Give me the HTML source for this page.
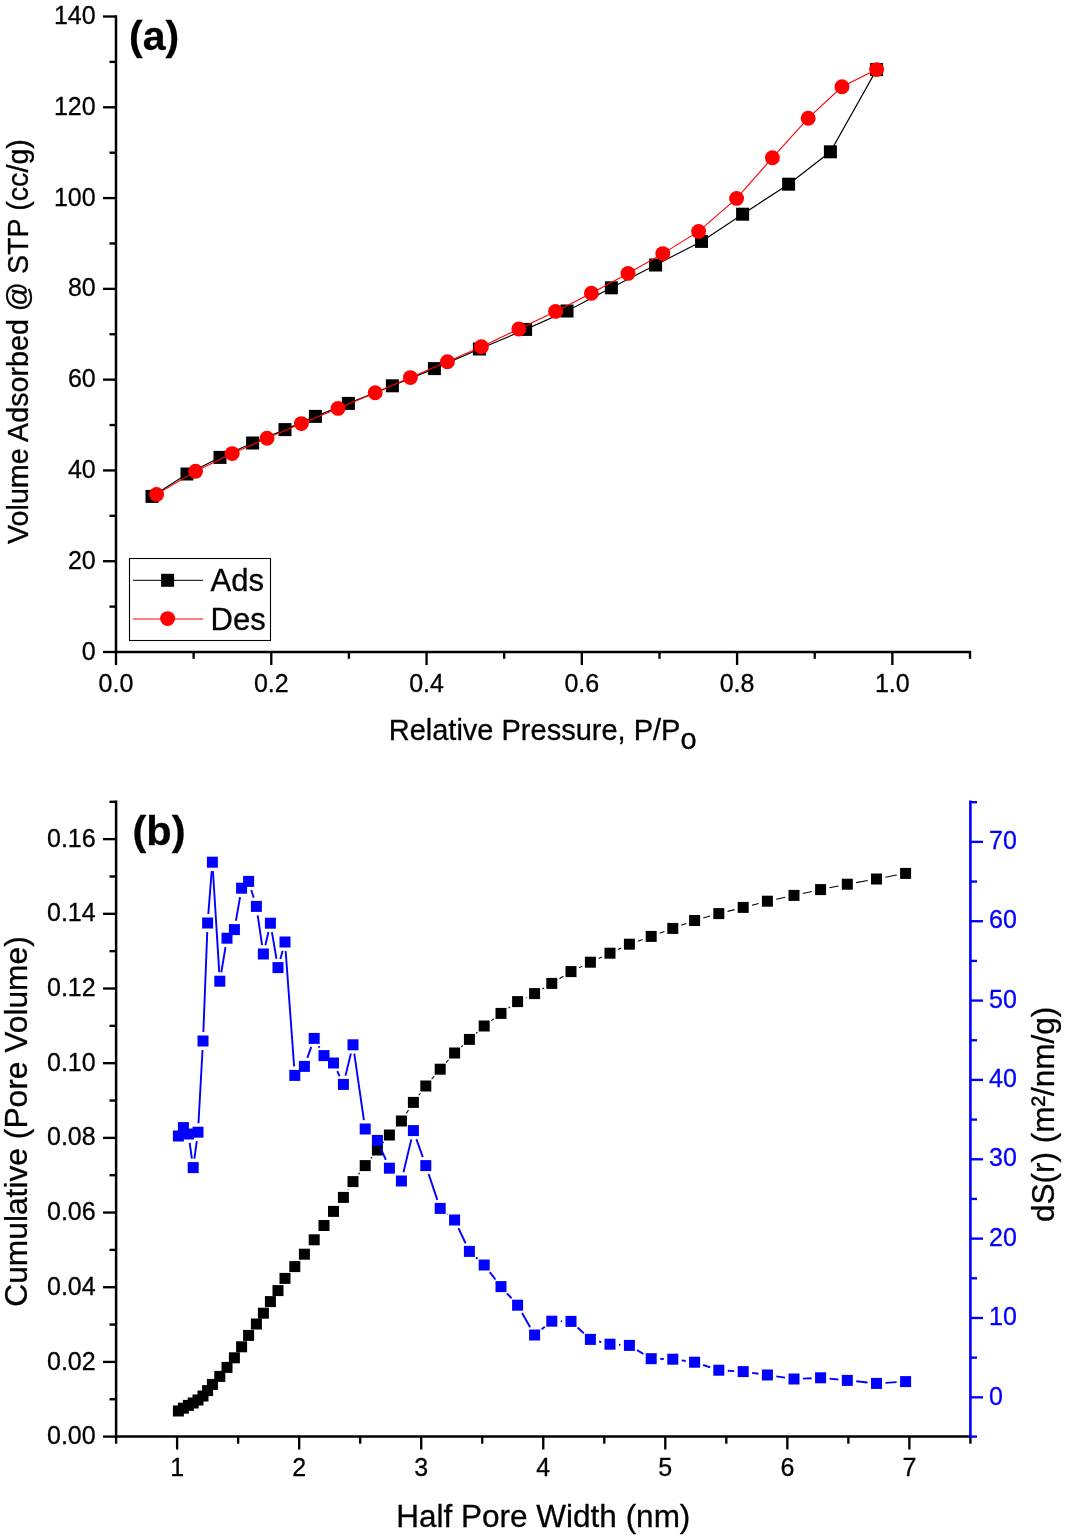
<!DOCTYPE html>
<html><head><meta charset="utf-8"><title>Isotherm and pore size distribution</title>
<style>
html,body{margin:0;padding:0;background:#fff;}
body{width:1065px;height:1537px;overflow:hidden;}
svg{display:block;font-family:"Liberation Sans", sans-serif;opacity:0.999;will-change:transform;}
text{stroke:currentColor;stroke-width:0.3px;}
</style></head>
<body>
<svg width="1065" height="1537" viewBox="0 0 1065 1537">
<rect width="1065" height="1537" fill="#fff"/>
<line x1="116" y1="15.32" x2="116" y2="653.25" stroke="#000" stroke-width="2.5" />
<line x1="114.75" y1="652" x2="971.17" y2="652" stroke="#000" stroke-width="2.5" />
<line x1="103" y1="652" x2="116" y2="652" stroke="#000" stroke-width="2.35" />
<text x="95.7" y="659.6" font-size="25" text-anchor="end" fill="#000" style="color:#000" font-weight="normal" >0</text>
<line x1="109.5" y1="606.61" x2="116" y2="606.61" stroke="#000" stroke-width="2.35" />
<line x1="103" y1="561.21" x2="116" y2="561.21" stroke="#000" stroke-width="2.35" />
<text x="95.7" y="568.81" font-size="25" text-anchor="end" fill="#000" style="color:#000" font-weight="normal" >20</text>
<line x1="109.5" y1="515.82" x2="116" y2="515.82" stroke="#000" stroke-width="2.35" />
<line x1="103" y1="470.43" x2="116" y2="470.43" stroke="#000" stroke-width="2.35" />
<text x="95.7" y="478.03" font-size="25" text-anchor="end" fill="#000" style="color:#000" font-weight="normal" >40</text>
<line x1="109.5" y1="425.04" x2="116" y2="425.04" stroke="#000" stroke-width="2.35" />
<line x1="103" y1="379.64" x2="116" y2="379.64" stroke="#000" stroke-width="2.35" />
<text x="95.7" y="387.24" font-size="25" text-anchor="end" fill="#000" style="color:#000" font-weight="normal" >60</text>
<line x1="109.5" y1="334.25" x2="116" y2="334.25" stroke="#000" stroke-width="2.35" />
<line x1="103" y1="288.86" x2="116" y2="288.86" stroke="#000" stroke-width="2.35" />
<text x="95.7" y="296.46" font-size="25" text-anchor="end" fill="#000" style="color:#000" font-weight="normal" >80</text>
<line x1="109.5" y1="243.46" x2="116" y2="243.46" stroke="#000" stroke-width="2.35" />
<line x1="103" y1="198.07" x2="116" y2="198.07" stroke="#000" stroke-width="2.35" />
<text x="95.7" y="205.67" font-size="25" text-anchor="end" fill="#000" style="color:#000" font-weight="normal" >100</text>
<line x1="109.5" y1="152.68" x2="116" y2="152.68" stroke="#000" stroke-width="2.35" />
<line x1="103" y1="107.29" x2="116" y2="107.29" stroke="#000" stroke-width="2.35" />
<text x="95.7" y="114.89" font-size="25" text-anchor="end" fill="#000" style="color:#000" font-weight="normal" >120</text>
<line x1="109.5" y1="61.89" x2="116" y2="61.89" stroke="#000" stroke-width="2.35" />
<line x1="103" y1="16.5" x2="116" y2="16.5" stroke="#000" stroke-width="2.35" />
<text x="95.7" y="24.1" font-size="25" text-anchor="end" fill="#000" style="color:#000" font-weight="normal" >140</text>
<line x1="116" y1="652" x2="116" y2="665" stroke="#000" stroke-width="2.35" />
<text x="116" y="691.7" font-size="25" text-anchor="middle" fill="#000" style="color:#000" font-weight="normal" >0.0</text>
<line x1="193.64" y1="652" x2="193.64" y2="658.8" stroke="#000" stroke-width="2.35" />
<line x1="271.27" y1="652" x2="271.27" y2="665" stroke="#000" stroke-width="2.35" />
<text x="271.27" y="691.7" font-size="25" text-anchor="middle" fill="#000" style="color:#000" font-weight="normal" >0.2</text>
<line x1="348.91" y1="652" x2="348.91" y2="658.8" stroke="#000" stroke-width="2.35" />
<line x1="426.55" y1="652" x2="426.55" y2="665" stroke="#000" stroke-width="2.35" />
<text x="426.55" y="691.7" font-size="25" text-anchor="middle" fill="#000" style="color:#000" font-weight="normal" >0.4</text>
<line x1="504.18" y1="652" x2="504.18" y2="658.8" stroke="#000" stroke-width="2.35" />
<line x1="581.82" y1="652" x2="581.82" y2="665" stroke="#000" stroke-width="2.35" />
<text x="581.82" y="691.7" font-size="25" text-anchor="middle" fill="#000" style="color:#000" font-weight="normal" >0.6</text>
<line x1="659.45" y1="652" x2="659.45" y2="658.8" stroke="#000" stroke-width="2.35" />
<line x1="737.09" y1="652" x2="737.09" y2="665" stroke="#000" stroke-width="2.35" />
<text x="737.09" y="691.7" font-size="25" text-anchor="middle" fill="#000" style="color:#000" font-weight="normal" >0.8</text>
<line x1="814.73" y1="652" x2="814.73" y2="658.8" stroke="#000" stroke-width="2.35" />
<line x1="892.36" y1="652" x2="892.36" y2="665" stroke="#000" stroke-width="2.35" />
<text x="892.36" y="691.7" font-size="25" text-anchor="middle" fill="#000" style="color:#000" font-weight="normal" >1.0</text>
<line x1="970" y1="652" x2="970" y2="658.8" stroke="#000" stroke-width="2.35" />
<polyline points="152,496.4 187,474 220,457.4 252.6,443 285,429.6 315.4,416.4 348.4,403.4 392.4,385.8 434.4,368.6 479.4,349 525.6,329.4 567,311 611.4,287.8 655.6,265 701.5,241.4 742.6,214.2 788.6,184.2 830.4,151.8 876.6,69.6" fill="none" stroke="#000" stroke-width="1.15"/>
<rect x="145.5" y="489.9" width="13" height="13" fill="#000"/>
<rect x="180.5" y="467.5" width="13" height="13" fill="#000"/>
<rect x="213.5" y="450.9" width="13" height="13" fill="#000"/>
<rect x="246.1" y="436.5" width="13" height="13" fill="#000"/>
<rect x="278.5" y="423.1" width="13" height="13" fill="#000"/>
<rect x="308.9" y="409.9" width="13" height="13" fill="#000"/>
<rect x="341.9" y="396.9" width="13" height="13" fill="#000"/>
<rect x="385.9" y="379.3" width="13" height="13" fill="#000"/>
<rect x="427.9" y="362.1" width="13" height="13" fill="#000"/>
<rect x="472.9" y="342.5" width="13" height="13" fill="#000"/>
<rect x="519.1" y="322.9" width="13" height="13" fill="#000"/>
<rect x="560.5" y="304.5" width="13" height="13" fill="#000"/>
<rect x="604.9" y="281.3" width="13" height="13" fill="#000"/>
<rect x="649.1" y="258.5" width="13" height="13" fill="#000"/>
<rect x="695" y="234.9" width="13" height="13" fill="#000"/>
<rect x="736.1" y="207.7" width="13" height="13" fill="#000"/>
<rect x="782.1" y="177.7" width="13" height="13" fill="#000"/>
<rect x="823.9" y="145.3" width="13" height="13" fill="#000"/>
<rect x="870.1" y="63.1" width="13" height="13" fill="#000"/>
<polyline points="156.6,494.4 195.6,471.2 232.2,453.6 267,438.2 301.4,423.6 338,408.4 375.2,392.8 410.4,377.6 447.4,361.8 481.4,346.8 518.8,329 555.6,311.4 591.4,293.2 628,273.4 662.8,253.6 698.6,231.4 736.6,198.4 772.4,157.8 808.2,118.2 842,86.8 876.6,69.6" fill="none" stroke="#f00" stroke-width="1.1"/>
<circle cx="156.6" cy="494.4" r="7.45" fill="#f00"/>
<circle cx="195.6" cy="471.2" r="7.45" fill="#f00"/>
<circle cx="232.2" cy="453.6" r="7.45" fill="#f00"/>
<circle cx="267" cy="438.2" r="7.45" fill="#f00"/>
<circle cx="301.4" cy="423.6" r="7.45" fill="#f00"/>
<circle cx="338" cy="408.4" r="7.45" fill="#f00"/>
<circle cx="375.2" cy="392.8" r="7.45" fill="#f00"/>
<circle cx="410.4" cy="377.6" r="7.45" fill="#f00"/>
<circle cx="447.4" cy="361.8" r="7.45" fill="#f00"/>
<circle cx="481.4" cy="346.8" r="7.45" fill="#f00"/>
<circle cx="518.8" cy="329" r="7.45" fill="#f00"/>
<circle cx="555.6" cy="311.4" r="7.45" fill="#f00"/>
<circle cx="591.4" cy="293.2" r="7.45" fill="#f00"/>
<circle cx="628" cy="273.4" r="7.45" fill="#f00"/>
<circle cx="662.8" cy="253.6" r="7.45" fill="#f00"/>
<circle cx="698.6" cy="231.4" r="7.45" fill="#f00"/>
<circle cx="736.6" cy="198.4" r="7.45" fill="#f00"/>
<circle cx="772.4" cy="157.8" r="7.45" fill="#f00"/>
<circle cx="808.2" cy="118.2" r="7.45" fill="#f00"/>
<circle cx="842" cy="86.8" r="7.45" fill="#f00"/>
<circle cx="876.6" cy="69.6" r="7.45" fill="#f00"/>
<rect x="129.5" y="558.5" width="141" height="82" fill="#fff" stroke="#000" stroke-width="1.1"/>
<line x1="133" y1="580.3" x2="203" y2="580.3" stroke="#000" stroke-width="1.0" />
<rect x="161.1" y="573.8" width="13" height="13" fill="#000"/>
<line x1="133" y1="619" x2="203" y2="619" stroke="#f00" stroke-width="1.2" />
<circle cx="167.6" cy="618.6" r="7.45" fill="#f00"/>
<text x="210.6" y="591" font-size="31" text-anchor="start" fill="#000" style="color:#000" font-weight="normal" >Ads</text>
<text x="210.6" y="629.7" font-size="31" text-anchor="start" fill="#000" style="color:#000" font-weight="normal" >Des</text>
<text x="129" y="50" font-size="41" text-anchor="start" fill="#000" style="color:#000" font-weight="bold" >(a)</text>
<text x="388.7" y="740" font-size="29">Relative Pressure, P/P<tspan dy="9">o</tspan></text>
<text transform="translate(27.8,544) rotate(-90)" font-size="28.7">Volume Adsorbed @ STP (cc/g)</text>
<line x1="116.1" y1="800.62" x2="116.1" y2="1437.85" stroke="#000" stroke-width="2.5" />
<line x1="114.85" y1="1436.6" x2="970.4" y2="1436.6" stroke="#000" stroke-width="2.5" />
<line x1="103" y1="1436.6" x2="116.1" y2="1436.6" stroke="#000" stroke-width="2.35" />
<text x="95.7" y="1444.2" font-size="25" text-anchor="end" fill="#000" style="color:#000" font-weight="normal" >0.00</text>
<line x1="109.5" y1="1399.26" x2="116.1" y2="1399.26" stroke="#000" stroke-width="2.35" />
<line x1="103" y1="1361.92" x2="116.1" y2="1361.92" stroke="#000" stroke-width="2.35" />
<text x="95.7" y="1369.52" font-size="25" text-anchor="end" fill="#000" style="color:#000" font-weight="normal" >0.02</text>
<line x1="109.5" y1="1324.58" x2="116.1" y2="1324.58" stroke="#000" stroke-width="2.35" />
<line x1="103" y1="1287.24" x2="116.1" y2="1287.24" stroke="#000" stroke-width="2.35" />
<text x="95.7" y="1294.84" font-size="25" text-anchor="end" fill="#000" style="color:#000" font-weight="normal" >0.04</text>
<line x1="109.5" y1="1249.89" x2="116.1" y2="1249.89" stroke="#000" stroke-width="2.35" />
<line x1="103" y1="1212.55" x2="116.1" y2="1212.55" stroke="#000" stroke-width="2.35" />
<text x="95.7" y="1220.15" font-size="25" text-anchor="end" fill="#000" style="color:#000" font-weight="normal" >0.06</text>
<line x1="109.5" y1="1175.21" x2="116.1" y2="1175.21" stroke="#000" stroke-width="2.35" />
<line x1="103" y1="1137.87" x2="116.1" y2="1137.87" stroke="#000" stroke-width="2.35" />
<text x="95.7" y="1145.47" font-size="25" text-anchor="end" fill="#000" style="color:#000" font-weight="normal" >0.08</text>
<line x1="109.5" y1="1100.53" x2="116.1" y2="1100.53" stroke="#000" stroke-width="2.35" />
<line x1="103" y1="1063.19" x2="116.1" y2="1063.19" stroke="#000" stroke-width="2.35" />
<text x="95.7" y="1070.79" font-size="25" text-anchor="end" fill="#000" style="color:#000" font-weight="normal" >0.10</text>
<line x1="109.5" y1="1025.85" x2="116.1" y2="1025.85" stroke="#000" stroke-width="2.35" />
<line x1="103" y1="988.51" x2="116.1" y2="988.51" stroke="#000" stroke-width="2.35" />
<text x="95.7" y="996.11" font-size="25" text-anchor="end" fill="#000" style="color:#000" font-weight="normal" >0.12</text>
<line x1="109.5" y1="951.16" x2="116.1" y2="951.16" stroke="#000" stroke-width="2.35" />
<line x1="103" y1="913.82" x2="116.1" y2="913.82" stroke="#000" stroke-width="2.35" />
<text x="95.7" y="921.42" font-size="25" text-anchor="end" fill="#000" style="color:#000" font-weight="normal" >0.14</text>
<line x1="109.5" y1="876.48" x2="116.1" y2="876.48" stroke="#000" stroke-width="2.35" />
<line x1="103" y1="839.14" x2="116.1" y2="839.14" stroke="#000" stroke-width="2.35" />
<text x="95.7" y="846.74" font-size="25" text-anchor="end" fill="#000" style="color:#000" font-weight="normal" >0.16</text>
<line x1="109.5" y1="801.8" x2="116.1" y2="801.8" stroke="#000" stroke-width="2.35" />
<line x1="116.1" y1="1436.6" x2="116.1" y2="1443.7" stroke="#000" stroke-width="2.35" />
<line x1="177.12" y1="1436.6" x2="177.12" y2="1449.5" stroke="#000" stroke-width="2.35" />
<text x="177.12" y="1476.3" font-size="25" text-anchor="middle" fill="#000" style="color:#000" font-weight="normal" >1</text>
<line x1="238.14" y1="1436.6" x2="238.14" y2="1443.7" stroke="#000" stroke-width="2.35" />
<line x1="299.16" y1="1436.6" x2="299.16" y2="1449.5" stroke="#000" stroke-width="2.35" />
<text x="299.16" y="1476.3" font-size="25" text-anchor="middle" fill="#000" style="color:#000" font-weight="normal" >2</text>
<line x1="360.19" y1="1436.6" x2="360.19" y2="1443.7" stroke="#000" stroke-width="2.35" />
<line x1="421.21" y1="1436.6" x2="421.21" y2="1449.5" stroke="#000" stroke-width="2.35" />
<text x="421.21" y="1476.3" font-size="25" text-anchor="middle" fill="#000" style="color:#000" font-weight="normal" >3</text>
<line x1="482.23" y1="1436.6" x2="482.23" y2="1443.7" stroke="#000" stroke-width="2.35" />
<line x1="543.25" y1="1436.6" x2="543.25" y2="1449.5" stroke="#000" stroke-width="2.35" />
<text x="543.25" y="1476.3" font-size="25" text-anchor="middle" fill="#000" style="color:#000" font-weight="normal" >4</text>
<line x1="604.27" y1="1436.6" x2="604.27" y2="1443.7" stroke="#000" stroke-width="2.35" />
<line x1="665.29" y1="1436.6" x2="665.29" y2="1449.5" stroke="#000" stroke-width="2.35" />
<text x="665.29" y="1476.3" font-size="25" text-anchor="middle" fill="#000" style="color:#000" font-weight="normal" >5</text>
<line x1="726.31" y1="1436.6" x2="726.31" y2="1443.7" stroke="#000" stroke-width="2.35" />
<line x1="787.34" y1="1436.6" x2="787.34" y2="1449.5" stroke="#000" stroke-width="2.35" />
<text x="787.34" y="1476.3" font-size="25" text-anchor="middle" fill="#000" style="color:#000" font-weight="normal" >6</text>
<line x1="848.36" y1="1436.6" x2="848.36" y2="1443.7" stroke="#000" stroke-width="2.35" />
<line x1="909.38" y1="1436.6" x2="909.38" y2="1449.5" stroke="#000" stroke-width="2.35" />
<text x="909.38" y="1476.3" font-size="25" text-anchor="middle" fill="#000" style="color:#000" font-weight="normal" >7</text>
<line x1="970.4" y1="1436.6" x2="970.4" y2="1443.7" stroke="#000" stroke-width="2.35" />
<line x1="970.4" y1="800.62" x2="970.4" y2="1437.85" stroke="#00f" stroke-width="2.6" />
<line x1="970.4" y1="1436.6" x2="977" y2="1436.6" stroke="#00f" stroke-width="2.35" />
<line x1="970.4" y1="1397.33" x2="983" y2="1397.33" stroke="#00f" stroke-width="2.35" />
<text x="989" y="1404.52" font-size="25" text-anchor="start" fill="#00f" style="color:#00f" font-weight="normal" >0</text>
<line x1="970.4" y1="1357.65" x2="977" y2="1357.65" stroke="#00f" stroke-width="2.35" />
<line x1="970.4" y1="1317.97" x2="983" y2="1317.97" stroke="#00f" stroke-width="2.35" />
<text x="989" y="1325.17" font-size="25" text-anchor="start" fill="#00f" style="color:#00f" font-weight="normal" >10</text>
<line x1="970.4" y1="1278.3" x2="977" y2="1278.3" stroke="#00f" stroke-width="2.35" />
<line x1="970.4" y1="1238.62" x2="983" y2="1238.62" stroke="#00f" stroke-width="2.35" />
<text x="989" y="1245.82" font-size="25" text-anchor="start" fill="#00f" style="color:#00f" font-weight="normal" >20</text>
<line x1="970.4" y1="1198.95" x2="977" y2="1198.95" stroke="#00f" stroke-width="2.35" />
<line x1="970.4" y1="1159.28" x2="983" y2="1159.28" stroke="#00f" stroke-width="2.35" />
<text x="989" y="1166.47" font-size="25" text-anchor="start" fill="#00f" style="color:#00f" font-weight="normal" >30</text>
<line x1="970.4" y1="1119.6" x2="977" y2="1119.6" stroke="#00f" stroke-width="2.35" />
<line x1="970.4" y1="1079.92" x2="983" y2="1079.92" stroke="#00f" stroke-width="2.35" />
<text x="989" y="1087.12" font-size="25" text-anchor="start" fill="#00f" style="color:#00f" font-weight="normal" >40</text>
<line x1="970.4" y1="1040.25" x2="977" y2="1040.25" stroke="#00f" stroke-width="2.35" />
<line x1="970.4" y1="1000.57" x2="983" y2="1000.57" stroke="#00f" stroke-width="2.35" />
<text x="989" y="1007.77" font-size="25" text-anchor="start" fill="#00f" style="color:#00f" font-weight="normal" >50</text>
<line x1="970.4" y1="960.9" x2="977" y2="960.9" stroke="#00f" stroke-width="2.35" />
<line x1="970.4" y1="921.22" x2="983" y2="921.22" stroke="#00f" stroke-width="2.35" />
<text x="989" y="928.42" font-size="25" text-anchor="start" fill="#00f" style="color:#00f" font-weight="normal" >60</text>
<line x1="970.4" y1="881.55" x2="977" y2="881.55" stroke="#00f" stroke-width="2.35" />
<line x1="970.4" y1="841.87" x2="983" y2="841.87" stroke="#00f" stroke-width="2.35" />
<text x="989" y="849.07" font-size="25" text-anchor="start" fill="#00f" style="color:#00f" font-weight="normal" >70</text>
<line x1="970.4" y1="802.2" x2="977" y2="802.2" stroke="#00f" stroke-width="2.35" />
<line x1="348.07" y1="1189.71" x2="348.33" y2="1189.29" stroke="#000" stroke-width="1.05" />
<line x1="358.46" y1="1174.44" x2="359.74" y2="1172.76" stroke="#000" stroke-width="1.05" />
<line x1="370.74" y1="1158.51" x2="371.86" y2="1157.09" stroke="#000" stroke-width="1.05" />
<line x1="383.02" y1="1142.97" x2="383.78" y2="1142.03" stroke="#000" stroke-width="1.05" />
<line x1="395.26" y1="1128.17" x2="395.54" y2="1127.83" stroke="#000" stroke-width="1.05" />
<line x1="406.28" y1="1113.44" x2="408.52" y2="1109.96" stroke="#000" stroke-width="1.05" />
<line x1="418.83" y1="1095.22" x2="420.37" y2="1093.18" stroke="#000" stroke-width="1.05" />
<line x1="431.66" y1="1079.17" x2="434.34" y2="1076.03" stroke="#000" stroke-width="1.05" />
<line x1="446.18" y1="1062.47" x2="448.62" y2="1059.73" stroke="#000" stroke-width="1.05" />
<line x1="461.23" y1="1046.91" x2="462.77" y2="1045.49" stroke="#000" stroke-width="1.05" />
<line x1="476.07" y1="1033.36" x2="477.53" y2="1032.04" stroke="#000" stroke-width="1.05" />
<line x1="491.4" y1="1020.6" x2="493.8" y2="1018.8" stroke="#000" stroke-width="1.05" />
<line x1="508.34" y1="1008.19" x2="510.26" y2="1006.81" stroke="#000" stroke-width="1.05" />
<line x1="525.74" y1="997.77" x2="526.46" y2="997.43" stroke="#000" stroke-width="1.05" />
<line x1="542.34" y1="989.01" x2="544.06" y2="987.99" stroke="#000" stroke-width="1.05" />
<line x1="559.47" y1="978.69" x2="563.33" y2="976.31" stroke="#000" stroke-width="1.05" />
<line x1="579.1" y1="967.68" x2="582.3" y2="966.12" stroke="#000" stroke-width="1.05" />
<line x1="598.58" y1="958.44" x2="601.82" y2="956.96" stroke="#000" stroke-width="1.05" />
<line x1="618.16" y1="949.41" x2="621.24" y2="947.99" stroke="#000" stroke-width="1.05" />
<line x1="637.87" y1="941.17" x2="642.73" y2="939.43" stroke="#000" stroke-width="1.05" />
<line x1="659.64" y1="933.27" x2="664.36" y2="931.53" stroke="#000" stroke-width="1.05" />
<line x1="681.26" y1="925.33" x2="686.14" y2="923.57" stroke="#000" stroke-width="1.05" />
<line x1="703.26" y1="918.03" x2="710.14" y2="916.07" stroke="#000" stroke-width="1.05" />
<line x1="727.52" y1="911.38" x2="734.48" y2="909.62" stroke="#000" stroke-width="1.05" />
<line x1="751.92" y1="905.17" x2="758.68" y2="903.43" stroke="#000" stroke-width="1.05" />
<line x1="776.19" y1="899.28" x2="785.21" y2="897.32" stroke="#000" stroke-width="1.05" />
<line x1="802.79" y1="893.48" x2="811.81" y2="891.52" stroke="#000" stroke-width="1.05" />
<line x1="829.42" y1="887.82" x2="838.48" y2="885.98" stroke="#000" stroke-width="1.05" />
<line x1="856.16" y1="882.62" x2="867.64" y2="880.58" stroke="#000" stroke-width="1.05" />
<line x1="885.34" y1="877.3" x2="896.76" y2="875.1" stroke="#000" stroke-width="1.05" />
<rect x="172.9" y="1405.5" width="11" height="11" fill="#000"/>
<rect x="177.9" y="1402.7" width="11" height="11" fill="#000"/>
<rect x="182.9" y="1399.9" width="11" height="11" fill="#000"/>
<rect x="187.7" y="1397.5" width="11" height="11" fill="#000"/>
<rect x="192.5" y="1394.5" width="11" height="11" fill="#000"/>
<rect x="197.5" y="1390.5" width="11" height="11" fill="#000"/>
<rect x="202.1" y="1385.1" width="11" height="11" fill="#000"/>
<rect x="206.9" y="1378.9" width="11" height="11" fill="#000"/>
<rect x="214.3" y="1370.9" width="11" height="11" fill="#000"/>
<rect x="221.5" y="1361.9" width="11" height="11" fill="#000"/>
<rect x="228.9" y="1352.3" width="11" height="11" fill="#000"/>
<rect x="236.1" y="1341.3" width="11" height="11" fill="#000"/>
<rect x="243.1" y="1329.9" width="11" height="11" fill="#000"/>
<rect x="250.9" y="1318.5" width="11" height="11" fill="#000"/>
<rect x="257.9" y="1307.7" width="11" height="11" fill="#000"/>
<rect x="264.9" y="1296.1" width="11" height="11" fill="#000"/>
<rect x="272.5" y="1285.1" width="11" height="11" fill="#000"/>
<rect x="279.5" y="1272.9" width="11" height="11" fill="#000"/>
<rect x="289.3" y="1261.1" width="11" height="11" fill="#000"/>
<rect x="298.9" y="1248.7" width="11" height="11" fill="#000"/>
<rect x="308.7" y="1234.3" width="11" height="11" fill="#000"/>
<rect x="318.5" y="1220" width="11" height="11" fill="#000"/>
<rect x="328" y="1205.9" width="11" height="11" fill="#000"/>
<rect x="337.9" y="1191.9" width="11" height="11" fill="#000"/>
<rect x="347.5" y="1176.1" width="11" height="11" fill="#000"/>
<rect x="359.7" y="1160.1" width="11" height="11" fill="#000"/>
<rect x="371.9" y="1144.5" width="11" height="11" fill="#000"/>
<rect x="383.9" y="1129.5" width="11" height="11" fill="#000"/>
<rect x="395.9" y="1115.5" width="11" height="11" fill="#000"/>
<rect x="407.9" y="1096.9" width="11" height="11" fill="#000"/>
<rect x="420.3" y="1080.5" width="11" height="11" fill="#000"/>
<rect x="434.7" y="1063.7" width="11" height="11" fill="#000"/>
<rect x="449.1" y="1047.5" width="11" height="11" fill="#000"/>
<rect x="463.9" y="1033.9" width="11" height="11" fill="#000"/>
<rect x="478.7" y="1020.5" width="11" height="11" fill="#000"/>
<rect x="495.5" y="1007.9" width="11" height="11" fill="#000"/>
<rect x="512.1" y="996.1" width="11" height="11" fill="#000"/>
<rect x="529.1" y="988.1" width="11" height="11" fill="#000"/>
<rect x="546.3" y="977.9" width="11" height="11" fill="#000"/>
<rect x="565.5" y="966.1" width="11" height="11" fill="#000"/>
<rect x="584.9" y="956.7" width="11" height="11" fill="#000"/>
<rect x="604.5" y="947.7" width="11" height="11" fill="#000"/>
<rect x="623.9" y="938.7" width="11" height="11" fill="#000"/>
<rect x="645.7" y="930.9" width="11" height="11" fill="#000"/>
<rect x="667.3" y="922.9" width="11" height="11" fill="#000"/>
<rect x="689.1" y="915" width="11" height="11" fill="#000"/>
<rect x="713.3" y="908.1" width="11" height="11" fill="#000"/>
<rect x="737.7" y="901.9" width="11" height="11" fill="#000"/>
<rect x="761.9" y="895.7" width="11" height="11" fill="#000"/>
<rect x="788.5" y="889.9" width="11" height="11" fill="#000"/>
<rect x="815.1" y="884.1" width="11" height="11" fill="#000"/>
<rect x="841.8" y="878.7" width="11" height="11" fill="#000"/>
<rect x="871" y="873.5" width="11" height="11" fill="#000"/>
<rect x="900.1" y="867.9" width="11" height="11" fill="#000"/>
<line x1="189.67" y1="1142.91" x2="191.93" y2="1158.69" stroke="#00f" stroke-width="1.9" />
<line x1="194.41" y1="1158.68" x2="196.79" y2="1141.12" stroke="#00f" stroke-width="1.9" />
<line x1="198.49" y1="1123.21" x2="202.51" y2="1049.99" stroke="#00f" stroke-width="1.9" />
<line x1="203.35" y1="1032.01" x2="207.25" y2="931.99" stroke="#00f" stroke-width="1.9" />
<line x1="208.31" y1="914.03" x2="211.69" y2="871.17" stroke="#00f" stroke-width="1.9" />
<line x1="212.96" y1="871.18" x2="219.24" y2="972.22" stroke="#00f" stroke-width="1.9" />
<line x1="221.29" y1="972.32" x2="225.51" y2="947.08" stroke="#00f" stroke-width="1.9" />
<line x1="235.94" y1="920.73" x2="240.06" y2="897.07" stroke="#00f" stroke-width="1.9" />
<line x1="251.28" y1="889.99" x2="253.72" y2="897.81" stroke="#00f" stroke-width="1.9" />
<line x1="257.71" y1="915.3" x2="262.09" y2="945.1" stroke="#00f" stroke-width="1.9" />
<line x1="265.39" y1="945.22" x2="268.41" y2="931.98" stroke="#00f" stroke-width="1.9" />
<line x1="271.92" y1="932.07" x2="276.48" y2="958.73" stroke="#00f" stroke-width="1.9" />
<line x1="280.37" y1="958.92" x2="282.63" y2="950.68" stroke="#00f" stroke-width="1.9" />
<line x1="285.66" y1="950.98" x2="294.14" y2="1066.42" stroke="#00f" stroke-width="1.9" />
<line x1="307.37" y1="1057.91" x2="311.23" y2="1046.89" stroke="#00f" stroke-width="1.9" />
<line x1="318.66" y1="1046.22" x2="319.54" y2="1047.78" stroke="#00f" stroke-width="1.9" />
<line x1="337.28" y1="1071.17" x2="339.62" y2="1076.23" stroke="#00f" stroke-width="1.9" />
<line x1="345.52" y1="1075.65" x2="350.88" y2="1053.55" stroke="#00f" stroke-width="1.9" />
<line x1="354.29" y1="1053.71" x2="363.91" y2="1120.09" stroke="#00f" stroke-width="1.9" />
<line x1="380.97" y1="1148.66" x2="385.83" y2="1159.94" stroke="#00f" stroke-width="1.9" />
<line x1="403.48" y1="1172.24" x2="411.32" y2="1139.36" stroke="#00f" stroke-width="1.9" />
<line x1="416.41" y1="1139.08" x2="422.79" y2="1157.12" stroke="#00f" stroke-width="1.9" />
<line x1="428.67" y1="1174.13" x2="437.33" y2="1199.87" stroke="#00f" stroke-width="1.9" />
<line x1="447.21" y1="1214.05" x2="447.59" y2="1214.35" stroke="#00f" stroke-width="1.9" />
<line x1="458.44" y1="1228.14" x2="465.56" y2="1243.26" stroke="#00f" stroke-width="1.9" />
<line x1="476.03" y1="1257.49" x2="477.57" y2="1258.91" stroke="#00f" stroke-width="1.9" />
<line x1="489.73" y1="1272.1" x2="495.47" y2="1279.5" stroke="#00f" stroke-width="1.9" />
<line x1="506.99" y1="1293.31" x2="511.61" y2="1298.49" stroke="#00f" stroke-width="1.9" />
<line x1="522.06" y1="1313.02" x2="530.14" y2="1327.18" stroke="#00f" stroke-width="1.9" />
<line x1="541.62" y1="1329.37" x2="544.78" y2="1326.83" stroke="#00f" stroke-width="1.9" />
<line x1="560.8" y1="1321.29" x2="562" y2="1321.31" stroke="#00f" stroke-width="1.9" />
<line x1="577.6" y1="1327.52" x2="583.8" y2="1333.28" stroke="#00f" stroke-width="1.9" />
<line x1="599.14" y1="1341.54" x2="601.26" y2="1342.06" stroke="#00f" stroke-width="1.9" />
<line x1="618.98" y1="1344.76" x2="620.42" y2="1344.84" stroke="#00f" stroke-width="1.9" />
<line x1="637.08" y1="1350.09" x2="643.52" y2="1354.01" stroke="#00f" stroke-width="1.9" />
<line x1="660.2" y1="1358.91" x2="663.8" y2="1358.99" stroke="#00f" stroke-width="1.9" />
<line x1="681.72" y1="1360.43" x2="685.68" y2="1360.97" stroke="#00f" stroke-width="1.9" />
<line x1="703.15" y1="1365.02" x2="710.25" y2="1367.38" stroke="#00f" stroke-width="1.9" />
<line x1="727.79" y1="1370.72" x2="734.21" y2="1371.08" stroke="#00f" stroke-width="1.9" />
<line x1="752.11" y1="1372.85" x2="758.49" y2="1373.75" stroke="#00f" stroke-width="1.9" />
<line x1="776.3" y1="1376.34" x2="785.1" y2="1377.66" stroke="#00f" stroke-width="1.9" />
<line x1="802.99" y1="1378.59" x2="811.61" y2="1378.21" stroke="#00f" stroke-width="1.9" />
<line x1="829.56" y1="1378.67" x2="838.34" y2="1379.53" stroke="#00f" stroke-width="1.9" />
<line x1="856.25" y1="1381.32" x2="867.55" y2="1382.48" stroke="#00f" stroke-width="1.9" />
<line x1="885.48" y1="1382.84" x2="896.62" y2="1382.16" stroke="#00f" stroke-width="1.9" />
<rect x="172.9" y="1130.5" width="11" height="11" fill="#00f"/>
<rect x="177.9" y="1122.1" width="11" height="11" fill="#00f"/>
<rect x="182.9" y="1128.5" width="11" height="11" fill="#00f"/>
<rect x="187.7" y="1162.1" width="11" height="11" fill="#00f"/>
<rect x="192.5" y="1126.7" width="11" height="11" fill="#00f"/>
<rect x="197.5" y="1035.5" width="11" height="11" fill="#00f"/>
<rect x="202.1" y="917.5" width="11" height="11" fill="#00f"/>
<rect x="206.9" y="856.7" width="11" height="11" fill="#00f"/>
<rect x="214.3" y="975.7" width="11" height="11" fill="#00f"/>
<rect x="221.5" y="932.7" width="11" height="11" fill="#00f"/>
<rect x="228.9" y="924.1" width="11" height="11" fill="#00f"/>
<rect x="236.1" y="882.7" width="11" height="11" fill="#00f"/>
<rect x="243.1" y="875.9" width="11" height="11" fill="#00f"/>
<rect x="250.9" y="900.9" width="11" height="11" fill="#00f"/>
<rect x="257.9" y="948.5" width="11" height="11" fill="#00f"/>
<rect x="264.9" y="917.7" width="11" height="11" fill="#00f"/>
<rect x="272.5" y="962.1" width="11" height="11" fill="#00f"/>
<rect x="279.5" y="936.5" width="11" height="11" fill="#00f"/>
<rect x="289.3" y="1069.9" width="11" height="11" fill="#00f"/>
<rect x="298.9" y="1060.9" width="11" height="11" fill="#00f"/>
<rect x="308.7" y="1032.9" width="11" height="11" fill="#00f"/>
<rect x="318.5" y="1050.1" width="11" height="11" fill="#00f"/>
<rect x="328" y="1057.5" width="11" height="11" fill="#00f"/>
<rect x="337.9" y="1078.9" width="11" height="11" fill="#00f"/>
<rect x="347.5" y="1039.3" width="11" height="11" fill="#00f"/>
<rect x="359.7" y="1123.5" width="11" height="11" fill="#00f"/>
<rect x="371.9" y="1134.9" width="11" height="11" fill="#00f"/>
<rect x="383.9" y="1162.7" width="11" height="11" fill="#00f"/>
<rect x="395.9" y="1175.5" width="11" height="11" fill="#00f"/>
<rect x="407.9" y="1125.1" width="11" height="11" fill="#00f"/>
<rect x="420.3" y="1160.1" width="11" height="11" fill="#00f"/>
<rect x="434.7" y="1202.9" width="11" height="11" fill="#00f"/>
<rect x="449.1" y="1214.5" width="11" height="11" fill="#00f"/>
<rect x="463.9" y="1245.9" width="11" height="11" fill="#00f"/>
<rect x="478.7" y="1259.5" width="11" height="11" fill="#00f"/>
<rect x="495.5" y="1281.1" width="11" height="11" fill="#00f"/>
<rect x="512.1" y="1299.7" width="11" height="11" fill="#00f"/>
<rect x="529.1" y="1329.5" width="11" height="11" fill="#00f"/>
<rect x="546.3" y="1315.7" width="11" height="11" fill="#00f"/>
<rect x="565.5" y="1315.9" width="11" height="11" fill="#00f"/>
<rect x="584.9" y="1333.9" width="11" height="11" fill="#00f"/>
<rect x="604.5" y="1338.7" width="11" height="11" fill="#00f"/>
<rect x="623.9" y="1339.9" width="11" height="11" fill="#00f"/>
<rect x="645.7" y="1353.2" width="11" height="11" fill="#00f"/>
<rect x="667.3" y="1353.7" width="11" height="11" fill="#00f"/>
<rect x="689.1" y="1356.7" width="11" height="11" fill="#00f"/>
<rect x="713.3" y="1364.7" width="11" height="11" fill="#00f"/>
<rect x="737.7" y="1366.1" width="11" height="11" fill="#00f"/>
<rect x="761.9" y="1369.5" width="11" height="11" fill="#00f"/>
<rect x="788.5" y="1373.5" width="11" height="11" fill="#00f"/>
<rect x="815.1" y="1372.3" width="11" height="11" fill="#00f"/>
<rect x="841.8" y="1374.9" width="11" height="11" fill="#00f"/>
<rect x="871" y="1377.9" width="11" height="11" fill="#00f"/>
<rect x="900.1" y="1376.1" width="11" height="11" fill="#00f"/>
<text x="132.5" y="845" font-size="41.5" text-anchor="start" fill="#000" style="color:#000" font-weight="bold" >(b)</text>
<text x="396.3" y="1526.5" font-size="31.5" text-anchor="start" fill="#000" style="color:#000" font-weight="normal" >Half Pore Width (nm)</text>
<text transform="translate(27.3,1306.8) rotate(-90)" font-size="31.75">Cumulative (Pore Volume)</text>
<text transform="translate(1053.7,1222) rotate(-90)" font-size="31.5">dS(r) (m²/nm/g)</text>
</svg>
</body></html>
